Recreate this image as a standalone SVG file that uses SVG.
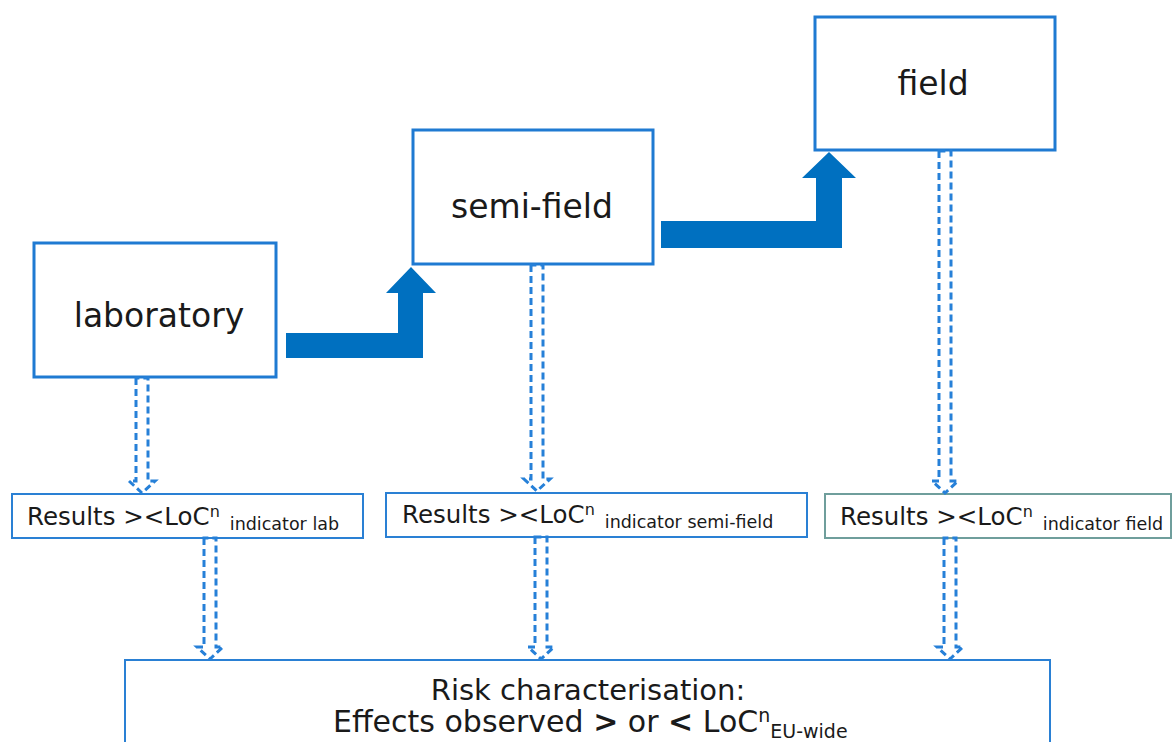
<svg xmlns="http://www.w3.org/2000/svg" width="1173" height="742" viewBox="0 0 1173 742">
  <style>
    .box { fill: #ffffff; stroke: #1f7ad2; stroke-width: 3; }
    .rbox { fill: #ffffff; stroke: #2a80d4; stroke-width: 2; }
    .rbox-alt { fill: #ffffff; stroke: #6f9e9c; stroke-width: 2; }
    .step { fill: #0070c0; }
    .flow { fill: none; stroke: #2680d8; stroke-width: 3; stroke-dasharray: 7 4; stroke-linejoin: miter; }
    text { font-family: "DejaVu Sans", Verdana, sans-serif; fill: #1a1a1a; }
    .big { font-size: 33px; }
    .res { font-size: 24.5px; }
    .sup { font-size: 16px; }
    .sub { font-size: 17.5px; }
    .risk { font-size: 29px; }
    .risk2 { font-size: 30px; }
    .risk-s { font-size: 19px; }
  </style>

  <!-- stepped arrows between test tiers -->
  <g id="steps">
    <path class="step" d="M286,333 L398,333 L398,293 L386,293 L411,267 L436,293 L423,293 L423,358 L286,358 Z"/>
    <path class="step" d="M661,221 L816,221 L816,178 L802,178 L829,152 L856,178 L842,178 L842,248 L661,248 Z"/>
  </g>

  <!-- tier boxes -->
  <g id="laboratory">
    <rect class="box" x="34" y="243" width="242" height="134"/>
    <text class="big" x="159" y="327" text-anchor="middle">laboratory</text>
  </g>
  <g id="semi-field">
    <rect class="box" x="413" y="130" width="240" height="134"/>
    <text class="big" x="532" y="218" text-anchor="middle">semi-field</text>
  </g>
  <g id="field">
    <rect class="box" x="815" y="17" width="240" height="133"/>
    <text class="big" x="933" y="95" text-anchor="middle">field</text>
  </g>

  <!-- result boxes -->
  <g id="results-lab">
    <rect class="rbox" x="12" y="494" width="351" height="44"/>
    <text class="res" x="27" y="525">Results &gt;&lt;LoC<tspan class="sup" dy="-8">n</tspan><tspan class="sub" dx="10" dy="13">indicator lab</tspan></text>
  </g>
  <g id="results-semi-field">
    <rect class="rbox" x="386" y="493" width="421" height="44"/>
    <text class="res" x="402" y="523">Results &gt;&lt;LoC<tspan class="sup" dy="-8">n</tspan><tspan class="sub" dx="10" dy="13">indicator semi-field</tspan></text>
  </g>
  <g id="results-field">
    <rect class="rbox-alt" x="825" y="494" width="346" height="44"/>
    <text class="res" x="840" y="525">Results &gt;&lt;LoC<tspan class="sup" dy="-8">n</tspan><tspan class="sub" dx="10" dy="13">indicator field</tspan></text>
  </g>

  <!-- risk characterisation -->
  <g id="risk">
    <rect class="rbox" x="125" y="660" width="925" height="110"/>
    <text class="risk" x="588" y="700" text-anchor="middle">Risk characterisation:</text>
    <text class="risk2" x="333" y="732">Effects observed <tspan font-weight="bold">&gt;</tspan> or <tspan font-weight="bold">&lt;</tspan> LoC<tspan class="risk-s" dy="-10">n</tspan><tspan class="risk-s" dy="16">EU-wide</tspan></text>
  </g>

  <!-- hollow dashed down-arrows -->
  <g id="connectors">
    <path class="flow" d="M136,378 L136,481 L129,481 L142,493 L155,481 L148,481 L148,378 Z"/>
    <path class="flow" d="M531,265 L531,479 L524,479 L537,491 L550,479 L543,479 L543,265 Z"/>
    <path class="flow" d="M939,151 L939,481 L932,481 L945,493 L958,481 L951,481 L951,151 Z"/>
    <path class="flow" d="M204,538 L204,647 L197,647 L210,659 L223,647 L216,647 L216,538 Z"/>
    <path class="flow" d="M535,537 L535,647 L528,647 L541,659 L554,647 L547,647 L547,537 Z"/>
    <path class="flow" d="M944,538 L944,647 L937,647 L950,659 L963,647 L956,647 L956,538 Z"/>
  </g>
</svg>
